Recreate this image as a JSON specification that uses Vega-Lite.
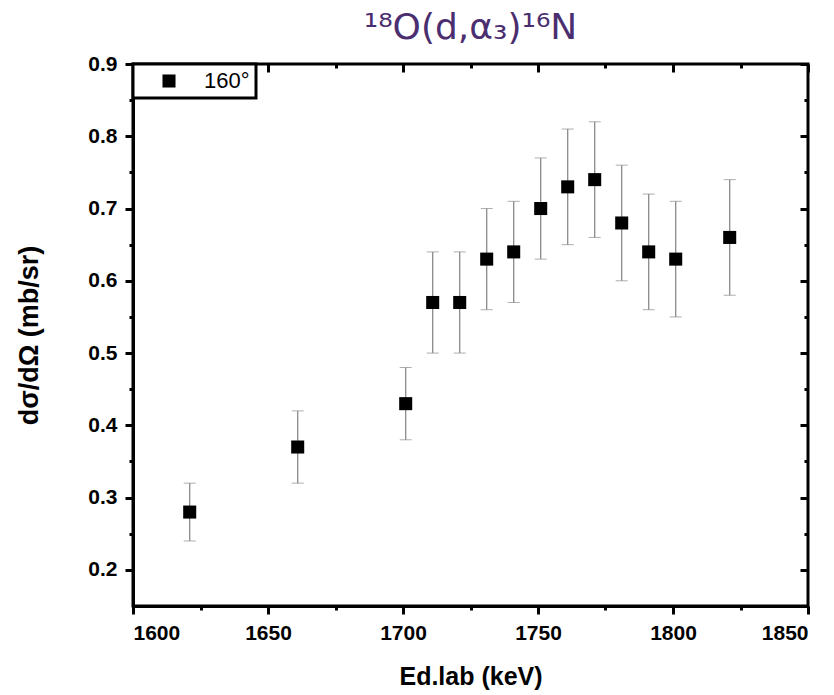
{
  "$schema": "https://vega.github.io/schema/vega-lite/v6.json",
  "width": 675,
  "height": 542,
  "autosize": "none",
  "padding": {"left": 133, "top": 64, "right": 26, "bottom": 89},
  "background": "white",
  "title": {
    "text": "¹⁸O(d,α₃)¹⁶N",
    "font": "DejaVu Sans",
    "fontSize": 36,
    "fontWeight": "normal",
    "color": "#4B2E6F",
    "anchor": "middle",
    "offset": 6
  },
  "data": {
    "values": [
      {"E": 1621, "xs": 0.28, "lo": 0.24, "hi": 0.32, "series": "160°"},
      {"E": 1661, "xs": 0.37, "lo": 0.32, "hi": 0.42, "series": "160°"},
      {"E": 1701, "xs": 0.43, "lo": 0.38, "hi": 0.48, "series": "160°"},
      {"E": 1711, "xs": 0.57, "lo": 0.50, "hi": 0.64, "series": "160°"},
      {"E": 1721, "xs": 0.57, "lo": 0.50, "hi": 0.64, "series": "160°"},
      {"E": 1731, "xs": 0.63, "lo": 0.56, "hi": 0.70, "series": "160°"},
      {"E": 1741, "xs": 0.64, "lo": 0.57, "hi": 0.71, "series": "160°"},
      {"E": 1751, "xs": 0.70, "lo": 0.63, "hi": 0.77, "series": "160°"},
      {"E": 1761, "xs": 0.73, "lo": 0.65, "hi": 0.81, "series": "160°"},
      {"E": 1771, "xs": 0.74, "lo": 0.66, "hi": 0.82, "series": "160°"},
      {"E": 1781, "xs": 0.68, "lo": 0.60, "hi": 0.76, "series": "160°"},
      {"E": 1791, "xs": 0.64, "lo": 0.56, "hi": 0.72, "series": "160°"},
      {"E": 1801, "xs": 0.63, "lo": 0.55, "hi": 0.71, "series": "160°"},
      {"E": 1821, "xs": 0.66, "lo": 0.58, "hi": 0.74, "series": "160°"}
    ]
  },
  "layer": [
    {
      "mark": {"type": "errorbar", "ticks": {"size": 12, "color": "#8a8a8a", "strokeWidth": 1.3}, "rule": {"color": "#8a8a8a", "strokeWidth": 1.3}},
      "encoding": {
        "x": {
          "field": "E", "type": "quantitative",
          "scale": {"domain": [1600, 1850], "nice": false, "zero": false},
          "axis": {"orient": "bottom", "values": [1600, 1650, 1700, 1750, 1800, 1850], "format": "d", "title": "Ed.lab (keV)", "titleFontSize": 25, "tickSize": 8, "titlePadding": 21, "labelPadding": 8}
        },
        "y": {
          "field": "lo", "type": "quantitative",
          "scale": {"domain": [0.15, 0.9], "nice": false, "zero": false},
          "axis": {"orient": "left", "values": [0.2, 0.3, 0.4, 0.5, 0.6, 0.7, 0.8, 0.9], "format": ".1f", "title": "dσ/dΩ (mb/sr)", "titleFontSize": 27, "tickSize": 8, "titlePadding": 44, "labelPadding": 8}
        },
        "y2": {"field": "hi"}
      }
    },
    {
      "mark": {"type": "square", "size": 170, "filled": true, "opacity": 1},
      "encoding": {
        "x": {
          "field": "E", "type": "quantitative",
          "axis": {"orient": "bottom", "values": [1625, 1675, 1725, 1775, 1825], "labels": false, "tickSize": 4, "domain": false, "title": null}
        },
        "y": {
          "field": "xs", "type": "quantitative",
          "axis": {"orient": "left", "values": [0.25, 0.35, 0.45, 0.55, 0.65, 0.75, 0.85], "labels": false, "tickSize": 4, "domain": false, "title": null}
        },
        "color": {
          "field": "series", "type": "nominal",
          "scale": {"domain": ["160°"], "range": ["black"]},
          "legend": {"title": null}
        }
      }
    },
    {
      "mark": {"type": "point", "opacity": 0},
      "encoding": {
        "x": {
          "field": "E", "type": "quantitative",
          "axis": {"orient": "top", "values": [1600, 1650, 1700, 1750, 1800, 1850], "labels": false, "tickSize": -8, "domain": false, "title": null}
        },
        "y": {
          "field": "xs", "type": "quantitative",
          "axis": {"orient": "right", "values": [0.2, 0.3, 0.4, 0.5, 0.6, 0.7, 0.8, 0.9], "labels": false, "tickSize": -8, "domain": false, "title": null}
        }
      }
    },
    {
      "mark": {"type": "point", "opacity": 0},
      "encoding": {
        "x": {
          "field": "E", "type": "quantitative",
          "axis": {"orient": "top", "values": [1625, 1675, 1725, 1775, 1825], "labels": false, "tickSize": -4, "domain": false, "title": null}
        },
        "y": {
          "field": "xs", "type": "quantitative",
          "axis": {"orient": "right", "values": [0.25, 0.35, 0.45, 0.55, 0.65, 0.75, 0.85], "labels": false, "tickSize": -4, "domain": false, "title": null}
        }
      }
    }
  ],
  "resolve": {"axis": {"x": "independent", "y": "independent"}},
  "config": {
    "view": {"stroke": "black", "strokeWidth": 3},
    "axis": {
      "grid": false,
      "labelFont": "Liberation Sans",
      "labelFontWeight": "bold",
      "labelFontSize": 21,
      "labelColor": "black",
      "titleFont": "Liberation Sans",
      "titleFontWeight": "bold",
      "titleFontSize": 22,
      "titleColor": "black",
      "tickColor": "black",
      "tickWidth": 3,
      "domainColor": "black",
      "domainWidth": 3
    },
    "legend": {
      "orient": "top-left",
      "offset": 0,
      "padding": 6,
      "strokeColor": "black",
      "strokeWidth": 3,
      "fillColor": "white",
      "symbolType": "square",
      "symbolSize": 170,
      "symbolStrokeWidth": 0,
      "symbolOffset": 19,
      "labelOffset": 24,
      "labelFont": "Liberation Sans",
      "labelFontSize": 22,
      "labelColor": "black"
    }
  }
}
